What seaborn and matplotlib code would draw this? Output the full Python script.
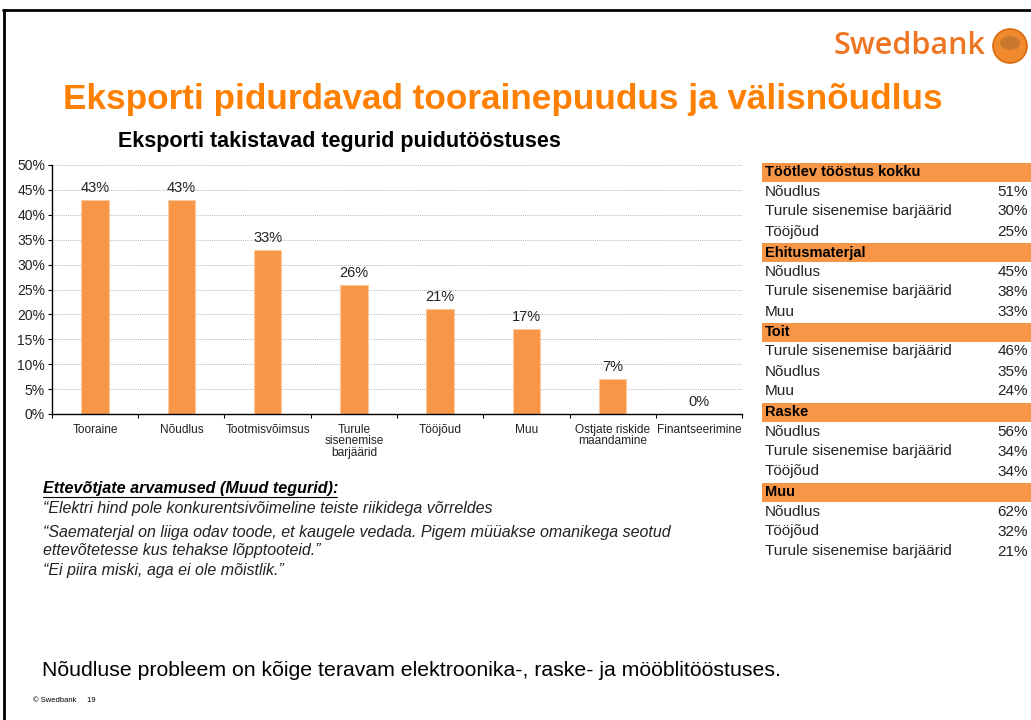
import matplotlib
matplotlib.use("Agg")
import matplotlib.pyplot as plt
import seaborn as sns
import pandas as pd
from matplotlib.patches import Rectangle, Ellipse
from matplotlib.lines import Line2D

categories = ["Tooraine", "Nõudlus", "Tootmisvõimsus", "Turule\nsisenemise\nbarjäärid",
              "Tööjõud", "Muu", "Ostjate riskide\nmaandamine", "Finantseerimine"]
values = [43, 43, 33, 26, 21, 17, 7, 0]
ytick_values = [0, 5, 10, 15, 20, 25, 30, 35, 40, 45, 50]

table_groups = ["Töötlev tööstus kokku", "Ehitusmaterjal", "Toit", "Raske", "Muu"]
table_items = [
    ["Nõudlus", "Turule sisenemise barjäärid", "Tööjõud"],
    ["Nõudlus", "Turule sisenemise barjäärid", "Muu"],
    ["Turule sisenemise barjäärid", "Nõudlus", "Muu"],
    ["Nõudlus", "Turule sisenemise barjäärid", "Tööjõud"],
    ["Nõudlus", "Tööjõud", "Turule sisenemise barjäärid"],
]
table_values = [
    [51, 30, 25],
    [45, 38, 33],
    [46, 35, 24],
    [56, 34, 34],
    [62, 32, 21],
]

quotes = [
    "“Elektri hind pole konkurentsivõimeline teiste riikidega võrreldes",
    "“Saematerjal on liiga odav toode, et kaugele vedada. Pigem müüakse omanikega seotud",
    "ettevõtetesse kus tehakse lõpptooteid.”",
    "“Ei piira miski, aga ei ole mõistlik.”",
]

sns.set_theme(style="white")
plt.rcParams["font.family"] = ["Liberation Sans", "DejaVu Sans"]

ORANGE = "#F79646"
TITLE_ORANGE = "#FF8000"

W, H = 1031, 720
fig = plt.figure(figsize=(W / 100, H / 100), dpi=100)

def fx(px):
    return px / W

def fy(py):
    return 1 - py / H

ax = fig.add_axes([fx(52), fy(414), fx(742) - fx(52), fy(165) - fy(414)])
df = pd.DataFrame({"cat": categories, "val": values})
sns.barplot(data=df, x="cat", y="val", color=ORANGE, width=0.32, ax=ax,
            edgecolor="#FBC9A0", linewidth=0.8, saturation=1)
ax.set_ylim(0, 50)
ax.set_xlim(-0.5, len(categories) - 0.5)
ax.set_yticks(ytick_values)
ax.set_yticklabels([f"{v}%" for v in ytick_values], fontsize=10, color="#222222")
ax.yaxis.grid(True, linestyle=(0, (1, 1)), color="#BBBBBB", linewidth=0.7)
ax.set_axisbelow(True)
ax.set_xlabel("")
ax.set_ylabel("")
for s in ["top", "right"]:
    ax.spines[s].set_visible(False)
for s in ["left", "bottom"]:
    ax.spines[s].set_color("black")
    ax.spines[s].set_linewidth(1.0)
ax.set_xticks(range(len(categories)))
ax.set_xticklabels(categories, fontsize=8.6, linespacing=0.95, color="#222222")
ax.tick_params(axis="x", which="major", length=0, pad=7)
ax.set_xticks([i - 0.5 for i in range(len(categories) + 1)], minor=True)
ax.tick_params(axis="x", which="minor", length=3, width=0.8, color="black", bottom=True)
ax.tick_params(axis="y", which="major", length=3, width=0.8, color="black", left=True, pad=2)
for i, v in enumerate(values):
    ax.text(i, v + 1.0, f"{v}%", ha="center", va="bottom", fontsize=10.5, color="#222222")

# slide border
fig.add_artist(Line2D([fx(3.5), fx(3.5)], [fy(10), 0], color="black", lw=2, transform=fig.transFigure))
fig.add_artist(Line2D([fx(3), 1], [fy(10), fy(10)], color="black", lw=2, transform=fig.transFigure))

# logo
fig.text(fx(985), fy(46), "Swedbank", ha="right", va="center", fontsize=22,
         family=["Open Sans", "Liberation Sans"], fontweight="semibold", color="#EE7623")
fig.add_artist(Ellipse((fx(1010), fy(46)), 34 / W, 34 / H, transform=fig.transFigure,
                       facecolor="#F08A2C", edgecolor="#D86A12", lw=1.2))
fig.add_artist(Ellipse((fx(1010), fy(43)), 20 / W, 14 / H, transform=fig.transFigure,
                       facecolor="#C9782E", edgecolor="none"))

# titles
fig.text(fx(63), fy(100), "Eksporti pidurdavad toorainepuudus ja välisnõudlus",
         ha="left", va="center", fontsize=25.3, fontweight="bold", color=TITLE_ORANGE)
fig.text(fx(118), fy(142), "Eksporti takistavad tegurid puidutööstuses",
         ha="left", va="center", fontsize=15.5, fontweight="bold", color="black")

# table
row_h = 20
y0 = 163
x_left, x_right = 762, 1031
r = 0
for g, items, vals in zip(table_groups, table_items, table_values):
    top = y0 + r * row_h
    fig.add_artist(Rectangle((fx(x_left), fy(top + 19)), fx(x_right) - fx(x_left),
                             19 / H, transform=fig.transFigure,
                             facecolor=ORANGE, edgecolor="none"))
    fig.text(fx(765), fy(top + 9.5), g, ha="left", va="center",
             fontsize=10.5, fontweight="bold", color="black")
    r += 1
    for it, v in zip(items, vals):
        top = y0 + r * row_h
        fig.text(fx(765), fy(top + 8.5), it, ha="left", va="center",
                 fontsize=11, color="#222222")
        fig.text(fx(1028), fy(top + 8.5), f"{v}%", ha="right", va="center",
                 fontsize=11, color="#222222")
        r += 1

# quotes
fig.text(fx(43), fy(488), "Ettevõtjate arvamused (Muud tegurid):", ha="left", va="center",
         fontsize=11.6, fontweight="bold", style="italic", color="black")
fig.add_artist(Line2D([fx(43), fx(337)], [fy(497), fy(497)], color="black", lw=0.8,
                      transform=fig.transFigure))
for q, yy in zip(quotes, [509, 533, 551, 570]):
    fig.text(fx(43), fy(yy), q, ha="left", va="center", fontsize=11.5, style="italic", color="#222222")

fig.text(fx(42), fy(671), "Nõudluse probleem on kõige teravam elektroonika-, raske- ja mööblitööstuses.",
         ha="left", va="center", fontsize=15.3, color="black")
fig.text(fx(33), fy(700), "© Swedbank     19", ha="left", va="center", fontsize=5.5, color="black")

fig.savefig("out.png", dpi=100)
